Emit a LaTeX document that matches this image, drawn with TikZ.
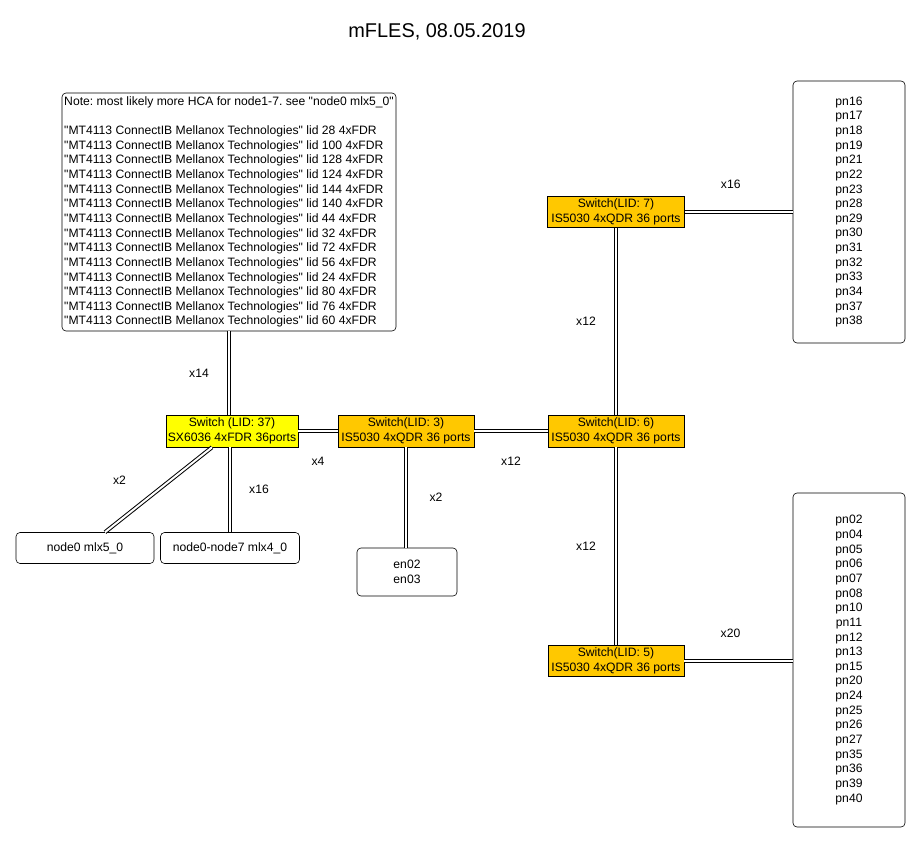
\documentclass[tikz,border=0pt]{standalone}
\usepackage{fontspec}
\setmainfont{Liberation Sans}[Ligatures=TeXOff]
\usetikzlibrary{calc}
\frenchspacing

\begin{document}
\begin{tikzpicture}[x=1bp,y=-1bp,
        font=\fontsize{12.2}{14.7}\selectfont,
        caja/.style={draw,rounded corners=4bp,line width=0.6pt,inner sep=0pt,align=center},
        switch/.style={draw,line width=0.6pt,fill=naranja,inner sep=0pt,align=center,
            minimum width=136bp,minimum height=31bp,font=\fontsize{12.2}{15}\selectfont},
        enlace/.style={draw,line width=1bp,double,double distance=2bp},
        etiqueta/.style={inner sep=0pt}]
        %colores
        \definecolor{naranja}{RGB}{255,200,0}
        \definecolor{amarillo}{RGB}{255,255,0}

        \useasboundingbox[fill=white] (0,0) rectangle (921,843);

        % Titulo
        \node[font=\fontsize{20}{24}\selectfont] (titulo) at (437,32) {mFLES, 08.05.2019};

        % Switches
        \node[switch,fill=amarillo,minimum width=132bp,minimum height=32bp] (s37) at (232,431) {Switch (LID: 37)\\SX6036 4xFDR 36ports};
        \node[switch,minimum height=32bp] (s3) at (406,431) {Switch(LID: 3)\\IS5030 4xQDR 36 ports};
        \node[switch,minimum height=32bp] (s6) at (616,431) {Switch(LID: 6)\\IS5030 4xQDR 36 ports};
        \node[switch,minimum width=137bp] (s7) at (616,212) {Switch(LID: 7)\\IS5030 4xQDR 36 ports};
        \node[switch] (s5) at (616,661) {Switch(LID: 5)\\IS5030 4xQDR 36 ports};

        % Cajas de nodos
        \node[caja,align=left,minimum width=334bp,minimum height=238bp] (hca) at (229,212) {%
            Note: most likely more HCA for node1-7. see "node0 mlx5\_0"\\[14.7pt]
            "MT4113 ConnectIB Mellanox Technologies" lid 28 4xFDR\\
            "MT4113 ConnectIB Mellanox Technologies" lid 100 4xFDR\\
            "MT4113 ConnectIB Mellanox Technologies" lid 128 4xFDR\\
            "MT4113 ConnectIB Mellanox Technologies" lid 124 4xFDR\\
            "MT4113 ConnectIB Mellanox Technologies" lid 144 4xFDR\\
            "MT4113 ConnectIB Mellanox Technologies" lid 140 4xFDR\\
            "MT4113 ConnectIB Mellanox Technologies" lid 44 4xFDR\\
            "MT4113 ConnectIB Mellanox Technologies" lid 32 4xFDR\\
            "MT4113 ConnectIB Mellanox Technologies" lid 72 4xFDR\\
            "MT4113 ConnectIB Mellanox Technologies" lid 56 4xFDR\\
            "MT4113 ConnectIB Mellanox Technologies" lid 24 4xFDR\\
            "MT4113 ConnectIB Mellanox Technologies" lid 80 4xFDR\\
            "MT4113 ConnectIB Mellanox Technologies" lid 76 4xFDR\\
            "MT4113 ConnectIB Mellanox Technologies" lid 60 4xFDR};
        \node[caja,minimum width=138bp,minimum height=31bp] (n05) at (85,548) {node0 mlx5\_0};
        \node[caja,minimum width=139bp,minimum height=31bp] (n07) at (230,548) {node0-node7 mlx4\_0};
        \node[caja,minimum width=100bp,minimum height=48bp] (en) at (407,572) {en02\\en03};
        \node[caja,minimum width=112bp,minimum height=262bp] (pnA) at (849,212)
            {pn16\\pn17\\pn18\\pn19\\pn21\\pn22\\pn23\\pn28\\pn29\\pn30\\pn31\\pn32\\pn33\\pn34\\pn37\\pn38};
        \node[caja,minimum width=112bp,minimum height=334bp] (pnB) at (849,660)
            {pn02\\pn04\\pn05\\pn06\\pn07\\pn08\\pn10\\pn11\\pn12\\pn13\\pn15\\pn20\\pn24\\pn25\\pn26\\pn27\\pn35\\pn36\\pn39\\pn40};

        % Enlaces
        \draw[enlace] (hca.south) -- (hca.south |- s37.north) node[etiqueta,midway,xshift=-30bp] {x14};
        \draw[enlace] (s37.east) -- (s3.west) node[etiqueta,midway,yshift=-30bp] {x4};
        \draw[enlace] (s3.east) -- (s6.west) node[etiqueta,midway,yshift=-30bp] {x12};
        \draw[enlace] ([xshift=-20bp]s37.south) -- ([xshift=20bp]n05.north) node[etiqueta,midway,xshift=-39bp,yshift=9bp] {x2};
        \draw[enlace] (n07.north |- s37.south) -- (n07.north) node[etiqueta,midway,xshift=29bp] {x16};
        \draw[enlace] (s3.south) -- (s3.south |- en.north) node[etiqueta,midway,xshift=30bp] {x2};
        \draw[enlace] (s6.north) -- (s6.north |- s7.south) node[etiqueta,midway,xshift=-30bp] {x12};
        \draw[enlace] (s6.south) -- (s6.south |- s5.north) node[etiqueta,midway,xshift=-30bp] {x12};
        \draw[enlace] (s7.east) -- (s7.east -| pnA.west) node[etiqueta,midway,xshift=-8bp,yshift=28bp] {x16};
        \draw[enlace] (s5.east) -- (s5.east -| pnB.west) node[etiqueta,midway,xshift=-8bp,yshift=28bp] {x20};
    \end{tikzpicture}
\end{document}
